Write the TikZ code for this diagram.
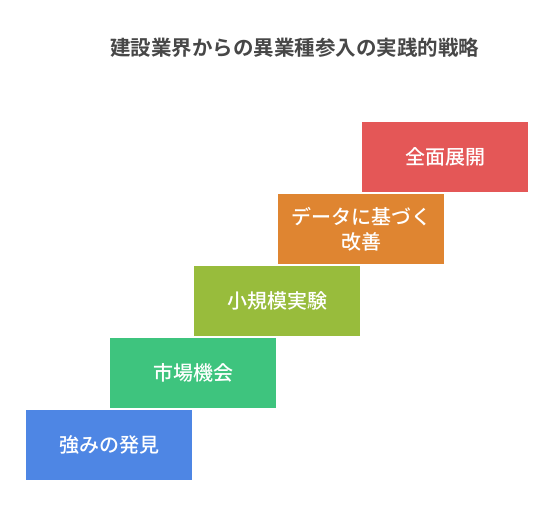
\documentclass[tikz,border=0pt]{standalone}
\usepackage{fontspec}
\setmainfont{Noto Sans CJK JP}
\newfontfamily\cjkbold{Noto Sans CJK JP Bold}
\newfontfamily\cjkmed{Noto Sans CJK JP Medium}
\definecolor{cblue}{HTML}{4E86E4}
\definecolor{cgreen}{HTML}{3EC47E}
\definecolor{colive}{HTML}{98BC3C}
\definecolor{corange}{HTML}{DF8531}
\definecolor{cred}{HTML}{E45757}
\definecolor{ctitle}{HTML}{474747}
\begin{document}
\begin{tikzpicture}[x=1pt,y=-1pt,
  stepbox/.style={draw=none,minimum width=166pt,minimum height=70pt,inner sep=0pt,
    text=white,font=\cjkmed\fontsize{20}{25}\selectfont,align=center,anchor=north west}]
\useasboundingbox[fill=white] (0,0) rectangle (554,530);
\node[font=\cjkbold\fontsize{20.5}{24}\selectfont,text=ctitle] (title) at (294.5,48) {建設業界からの異業種参入の実践的戦略};
\node[stepbox,fill=cblue] (s1) at (26,410) {強みの発見};
\node[stepbox,fill=cgreen] (s2) at (110,338) {市場機会};
\node[stepbox,fill=colive] (s3) at (194,266) {小規模実験};
\node[stepbox,fill=corange] (s4) at (278,194) {データに基づく\\改善};
\node[stepbox,fill=cred] (s5) at (362,122) {全面展開};
\end{tikzpicture}
\end{document}
